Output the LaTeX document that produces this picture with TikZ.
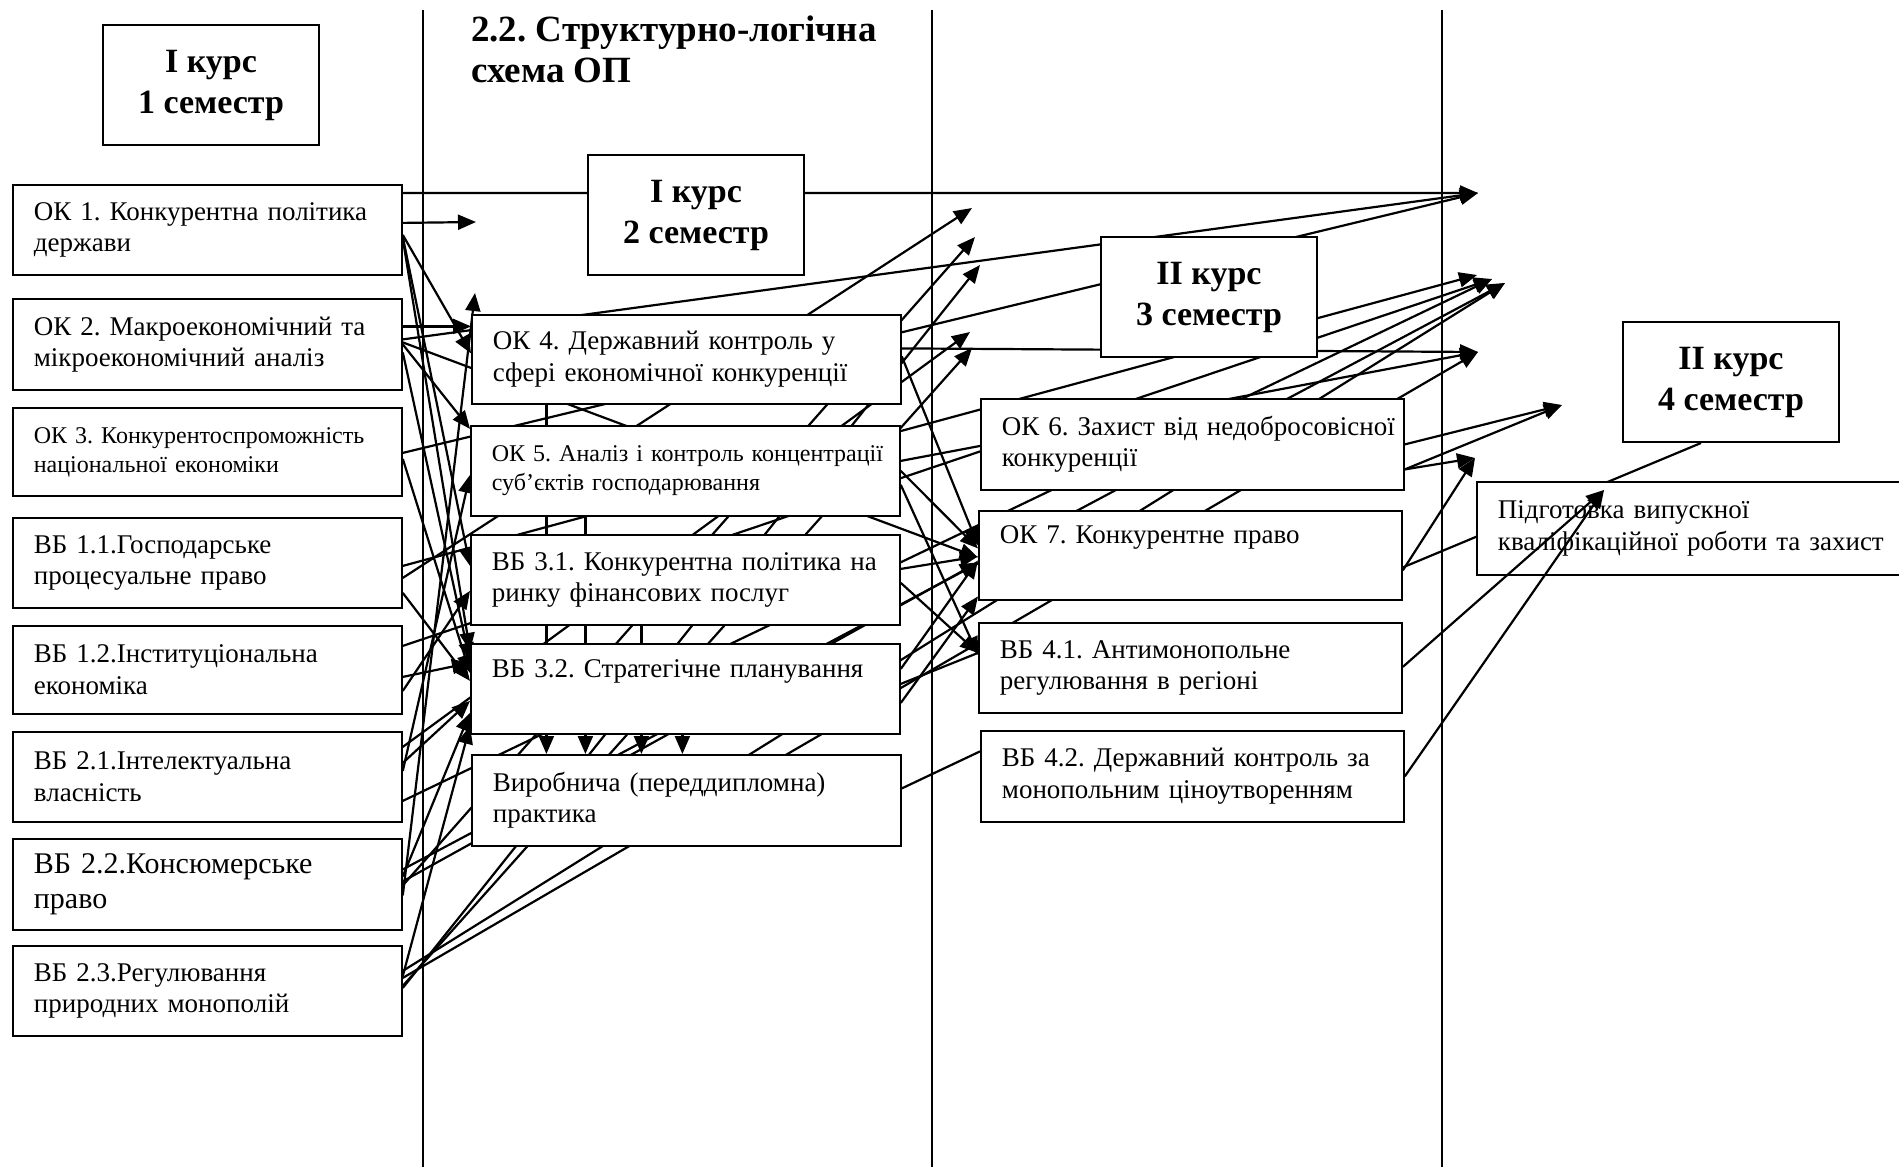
\documentclass[tikz,border=0pt]{standalone}
\usepackage{fontspec}
\setmainfont{Liberation Serif}
\usetikzlibrary{arrows.meta,backgrounds}
\frenchspacing

\newcommand\bodysize{\fontsize{27}{31.5}\selectfont}
\newcommand\smallsize{\fontsize{24}{29}\selectfont}
\newcommand\largesize{\fontsize{30}{35}\selectfont}
\newcommand\headsize{\fontsize{34}{41}\selectfont}
\newcommand\titlesize{\fontsize{37}{41}\selectfont}

\begin{document}
\begin{tikzpicture}[x=1pt,y=-1pt,
  course/.style={draw,fill=white,line width=2pt,anchor=north west,
    minimum width=216pt,minimum height=120pt,align=center,inner sep=0pt,
    font=\headsize\bfseries},
  subj/.style={draw,fill=white,line width=1.8pt,anchor=north west,
    align=left,inner xsep=21pt,inner ysep=0pt,minimum height=90pt,
    font=\bodysize},
  leftbox/.style={subj,text width=347pt},
  midbox/.style={subj,text width=387pt},
  rightbox/.style={subj,text width=381pt},
  link/.style={line width=2.2pt},
  arr/.style={link,-{Triangle[length=18pt,width=15pt]}}]
  \useasboundingbox (0,0) rectangle (1899,1167);

  % semester columns
  \draw[line width=2pt]
    (423,10)
    --
    (423,1167);
  \draw[line width=2pt]
    (932,10)
    --
    (932,1167);
  \draw[line width=2pt]
    (1442,10)
    --
    (1442,1167);

  % headings
  \node[anchor=north west,inner sep=0pt,align=left,font=\titlesize\bfseries]
    (title) at (471,16) {2.2. Структурно-логічна\\схема ОП};
  \node[course] (sem1) at (102,24) {І курс\\1 семестр};
  \node[course] (sem2) at (587,154) {І курс\\2 семестр};
  \node[course] (sem3) at (1100,236) {ІІ курс\\3 семестр};
  \node[course] (sem4) at (1622,321) {ІІ курс\\4 семестр};

  % first semester
  \node[leftbox] (ok1) at (12,184) {ОК 1. Конкурентна політика\\держави};
  \node[leftbox,minimum height=91pt] (ok2) at (12,298)
    {ОК 2. Макроекономічний та\\мікроекономічний аналіз};
  \node[leftbox,minimum height=88pt,font=\smallsize] (ok3) at (12,407)
    {ОК 3. Конкурентоспроможність\\національної економіки};
  \node[leftbox] (vb11) at (12,517) {ВБ 1.1.Господарське\\процесуальне право};
  \node[leftbox,minimum height=88pt] (vb12) at (12,625)
    {ВБ 1.2.Інституціональна\\економіка};
  \node[leftbox] (vb21) at (12,731) {ВБ 2.1.Інтелектуальна\\власність};
  \node[leftbox,minimum height=91pt,font=\largesize] (vb22) at (12,838)
    {ВБ 2.2.Консюмерське\\право};
  \node[leftbox] (vb23) at (12,945) {ВБ 2.3.Регулювання\\природних монополій};

  % second semester
  \node[midbox,minimum height=89pt] (ok4) at (471,314)
    {ОК 4. Державний контроль у\\сфері економічної конкуренції};
  \node[midbox,font=\smallsize] (ok5) at (470,425)
    {\mbox{ОК 5. Аналіз і контроль концентрації}\\суб’єктів господарювання};
  \node[midbox] (vb31) at (470,534)
    {\mbox{ВБ 3.1. Конкурентна політика на}\\ринку фінансових послуг};
  \node[midbox] (vb32) at (470,643) {ВБ 3.2. Стратегічне планування\\\strut};
  \node[midbox,minimum height=91pt] (prac) at (471,754)
    {Виробнича (переддипломна)\\практика};

  % third semester
  \node[rightbox,minimum height=91pt] (ok6) at (980,398)
    {\mbox{ОК 6. Захист від недобросовісної}\\конкуренції};
  \node[rightbox,minimum height=89pt] (ok7) at (978,510)
    {ОК 7. Конкурентне право\\\strut};
  \node[rightbox] (vb41) at (978,622)
    {ВБ 4.1. Антимонопольне\\регулювання в регіоні};
  \node[rightbox,minimum height=91pt] (vb42) at (980,730)
    {ВБ 4.2. Державний контроль за\\монопольним ціноутворенням};

  % fourth semester
  \node[subj,text width=420pt,minimum height=93pt] (thesis) at (1476,481)
    {Підготовка випускної\\кваліфікаційної роботи та захист};

  % free arrow ends
  \coordinate (t1) at (476,222);
  \coordinate (up) at (475,293);
  \coordinate (b1) at (972,208);
  \coordinate (b2) at (975,237);
  \coordinate (b3) at (980,265);
  \coordinate (b4) at (970,332);
  \coordinate (b5) at (972,348);
  \coordinate (a1) at (1478,193);
  \coordinate (a2) at (1477,275);
  \coordinate (a2b) at (1492,279);
  \coordinate (a2c) at (1505,283);
  \coordinate (a3) at (1478,352);
  \coordinate (a4) at (1562,405);
  \coordinate (a5) at (1475,458);
  \coordinate (a6) at (1604,490);
  \coordinate (d1) at ([xshift=-140pt]ok4.south);
  \coordinate (d2) at ([xshift=-100pt]ok5.south);
  \coordinate (d3) at ([xshift=-44pt]vb31.south);
  \coordinate (d4) at ([xshift=-3pt]vb32.south);

  \begin{scope}[on background layer]
    % from the first semester
    \draw[arr] ([yshift=37pt]ok1.east) -- (a1);
    \draw[arr] ([yshift=7pt]ok1.east) -- (t1);
    \draw[arr] ([yshift=-5pt]ok1.east) -- ([yshift=6pt]ok4.west);
    \draw[arr] ([yshift=-7pt]ok1.east) -- ([yshift=14pt]vb31.west);
    \draw[arr] ([yshift=-9pt]ok1.east) -- ([yshift=38pt]vb32.west);
    \draw[arr] ([yshift=18pt]ok2.east) -- ([yshift=33pt]ok4.west);
    \draw[arr] ([yshift=5pt]ok2.east) -- (a1);
    \draw[arr] ([yshift=2pt]ok2.east) -- ([yshift=-2pt]ok7.west);
    \draw[arr] (ok2.east) -- ([yshift=42pt]ok5.west);
    \draw[arr] ([yshift=-8pt]ok2.east) -- ([yshift=28pt]vb32.west);
    \draw[arr] ([yshift=-1pt]ok3.east) -- (a1);
    \draw[arr] ([yshift=-7pt]ok3.east) -- ([yshift=16pt]vb32.west);
    \draw[arr] ([yshift=-3pt]vb11.east) -- (a2);
    \draw[arr] ([yshift=-15pt]vb11.east) -- (b1);
    \draw[arr] ([yshift=-30pt]vb11.east) -- ([yshift=8pt]vb32.west);
    \draw[arr] ([yshift=24pt]vb12.east) -- (a2b);
    \draw[arr] ([yshift=-7pt]vb12.east) -- ([yshift=26pt]vb32.west);
    \draw[arr] ([yshift=-21pt]vb12.east) -- ([yshift=-11pt]vb31.west);
    \draw[arr] ([yshift=30pt]vb21.east) -- (b4);
    \draw[arr] ([yshift=-24pt]vb21.east) -- (a2b);
    \draw[arr] ([yshift=14pt]vb21.east) -- ([yshift=-12pt]vb32.west);
    \draw[arr] ([yshift=6pt]vb21.east) -- ([yshift=-4pt]ok5.west);
    \draw[arr] ([yshift=15pt]vb22.east) -- (a2c);
    \draw[arr] ([yshift=-1pt]vb22.east) -- (b2);
    \draw[arr] ([yshift=-11pt]vb22.east) -- (up);
    \draw[arr] ([yshift=8pt]vb22.east) -- ([yshift=-24pt]vb32.west);
    \draw[arr] ([yshift=3pt]vb22.east) -- ([yshift=-7pt]ok7.west);
    \draw[arr] ([yshift=3pt]vb23.east) -- (b3);
    \draw[arr] ([yshift=5pt]vb23.east) -- (b5);
    \draw[arr] ([yshift=15pt]vb23.east) -- ([yshift=-37pt]vb32.west);
    \draw[arr] ([yshift=13pt]vb23.east) -- (a3);
    \draw[arr] ([yshift=20pt]vb23.east) -- (a2c);
    % from the second semester
    \draw[arr] ([yshift=11pt]ok4.east) -- (a3);
    \draw[arr] ([yshift=3pt]ok4.east) -- ([yshift=10pt]ok7.west);
    \draw[arr] ([yshift=10pt]ok5.east) -- (a3);
    \draw[arr] ([yshift=-14pt]ok5.east) -- ([yshift=13pt]vb41.west);
    \draw[arr] (ok5.east) -- ([yshift=7pt]ok7.west);
    \draw[arr] ([yshift=11pt]vb31.east) -- ([yshift=-1pt]ok7.west);
    \draw[arr] ([yshift=-3pt]vb31.east) -- ([yshift=15pt]vb41.west);
    \draw[arr] ([yshift=20pt]vb32.east) -- ([yshift=-5pt]ok7.west);
    \draw[link] ([yshift=5pt]vb32.east) -- ([yshift=15pt]vb41.west);
    \draw[arr] ([yshift=-14pt]vb32.east) -- ([yshift=-41pt]ok7.west);
    \draw[link] ([yshift=12pt]prac.east) -- ([yshift=25pt]vb42.west);
    \draw[arr] (d1) -- (d1 |- prac.north);
    \draw[arr] (d2) -- (d2 |- prac.north);
    \draw[arr] (d3) -- (d3 |- prac.north);
    \draw[arr] (d4) -- (d4 |- prac.north);
    % from the third semester
    \draw[arr] (ok6.east) -- (a4);
    \draw[arr] ([yshift=-25pt]ok6.east) -- (a4);
    \draw[arr] ([yshift=-25pt]ok6.east) -- (a5);
    \draw[arr] ([yshift=-15pt]ok7.east) -- (a5);
    \draw[link] ([yshift=-12pt]ok7.east) -- ([xshift=-30pt]sem4.south);
  \end{scope}
  \draw[arr] ([yshift=1pt]vb41.east) -- (a6);
  \draw[arr] (vb42.east) -- (a6);
\end{tikzpicture}
\end{document}
